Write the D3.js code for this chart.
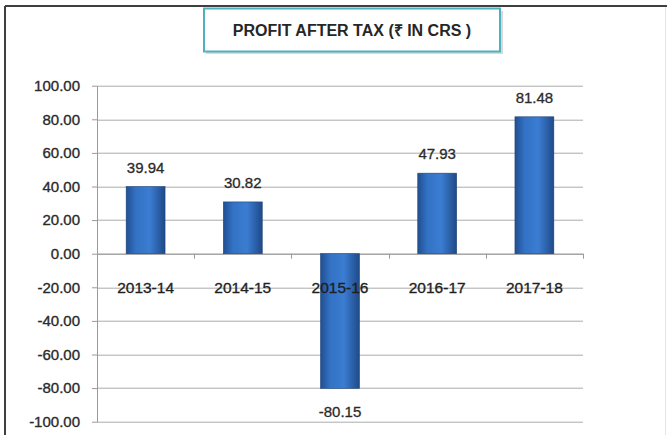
<!DOCTYPE html>
<html>
<head>
<meta charset="utf-8">
<script src="https://cdn.jsdelivr.net/npm/d3@7"></script>
<style>
  body { margin: 0; background: #fff; }
  svg { display: block; }
</style>
</head>
<body>
<div id="canvas"></div>
<script>
const years = ["2013-14", "2014-15", "2015-16", "2016-17", "2017-18"];
const profit = [39.94, 30.82, -80.15, 47.93, 81.48];
const yTicks = [100, 80, 60, 40, 20, 0, -20, -40, -60, -80, -100];
const title = "PROFIT AFTER TAX (\u20B9 IN CRS )";

const width = 667;
const height = 435;
const margin = { top: 85.7, left: 97, bottom: 13.3, right: 84 };
const iwidth = width - margin.left - margin.right;
const iheight = height - margin.top - margin.bottom;

const fmt = (v) => d3.format(".2f")(v).replace("\u2212", "-");
const font = "'Liberation Sans', Arial, sans-serif";

const svg = d3.select("#canvas").append("svg")
  .attr("width", width)
  .attr("height", height);

const defs = svg.append("defs");
const grad = defs.append("linearGradient").attr("id", "barGrad")
  .attr("x1", "0").attr("x2", "1").attr("y1", "0").attr("y2", "0");
grad.append("stop").attr("offset", "0%").attr("stop-color", "#214f92");
grad.append("stop").attr("offset", "25%").attr("stop-color", "#3372c4");
grad.append("stop").attr("offset", "60%").attr("stop-color", "#3b7dd2");
grad.append("stop").attr("offset", "100%").attr("stop-color", "#1f4a88");

// frame
svg.append("line").attr("x1", 5).attr("x2", width).attr("y1", 6).attr("y2", 6)
  .attr("stroke", "#3f3f3f").attr("stroke-width", 2);
svg.append("line").attr("x1", 5).attr("x2", 5).attr("y1", 6).attr("y2", height)
  .attr("stroke", "#3f3f3f").attr("stroke-width", 2);
svg.append("line").attr("x1", 665.5).attr("x2", 665.5).attr("y1", 7).attr("y2", height)
  .attr("stroke", "#e4e4e4").attr("stroke-width", 1);

// title box
svg.append("rect").attr("x", 206).attr("y", 11).attr("width", 297).attr("height", 43)
  .attr("fill", "#d9d9d9");
svg.append("rect").attr("x", 204).attr("y", 8.5).attr("width", 296).attr("height", 43)
  .attr("fill", "#fff").attr("stroke", "#4fb1bf").attr("stroke-width", 2);
svg.append("text").attr("x", 352).attr("y", 36)
  .attr("text-anchor", "middle")
  .style("font-family", font)
  .style("font-weight", "bold").style("font-size", "16px")
  .attr("fill", "#262626")
  .text(title);

const g = svg.append("g")
  .attr("transform", `translate(${margin.left},${margin.top})`);

const x = d3.scaleBand().domain(years).range([0, iwidth]).paddingInner(0.6).paddingOuter(0.3);
const xb = d3.scaleBand().domain(years).range([0, iwidth]);
const y = d3.scaleLinear().domain([-100, 100]).range([iheight, 0]);

// gridlines
g.append("g").selectAll("line").data(yTicks).enter().append("line")
  .attr("x1", 0).attr("x2", iwidth)
  .attr("y1", (d) => Math.round(y(d)) + 0.5).attr("y2", (d) => Math.round(y(d)) + 0.5)
  .attr("stroke", "#ababab").attr("stroke-width", 1);

// y axis
const yAxis = g.append("g").classed("y--axis", true)
  .call(d3.axisLeft(y).tickValues(yTicks).tickSize(5).tickSizeOuter(0)
    .tickFormat(fmt));
yAxis.select(".domain").attr("stroke", "#9a9a9a");
yAxis.selectAll(".tick line").attr("stroke", "#9a9a9a");
yAxis.selectAll("text")
  .attr("x", -17)
  .style("font-family", font)
  .style("font-size", "15px").attr("fill", "#2a2a2a")
  .attr("stroke", "#2a2a2a").attr("stroke-width", 0.35);

// x axis ticks at category boundaries on zero line
g.append("line").attr("x1", 0).attr("x2", iwidth)
  .attr("y1", Math.round(y(0)) + 0.5).attr("y2", Math.round(y(0)) + 0.5)
  .attr("stroke", "#9a9a9a");
g.append("g").selectAll("line").data(years).enter().append("line")
  .attr("x1", (d) => Math.round(xb(d) + xb.bandwidth()) + 0.5)
  .attr("x2", (d) => Math.round(xb(d) + xb.bandwidth()) + 0.5)
  .attr("y1", y(0)).attr("y2", y(0) + 5)
  .attr("stroke", "#9a9a9a");

// bars
const data = years.map((yr, i) => ({ year: yr, value: profit[i] }));
g.selectAll("rect.bar").data(data).enter().append("rect")
  .classed("bar", true)
  .attr("x", (d) => x(d.year))
  .attr("width", x.bandwidth())
  .attr("y", (d) => y(Math.max(0, d.value)))
  .attr("height", (d) => Math.abs(y(d.value) - y(0)))
  .attr("fill", "url(#barGrad)")
  .attr("stroke", "#1d4277").attr("stroke-width", 0.6);

// category labels
g.selectAll("text.cat").data(years).enter().append("text")
  .classed("cat", true)
  .attr("x", (d) => xb(d) + xb.bandwidth() / 2)
  .attr("y", y(-20) + 6)
  .attr("text-anchor", "middle")
  .style("font-family", font)
  .style("font-size", "15.5px").attr("fill", "#1f1f1f")
  .attr("stroke", "#1f1f1f").attr("stroke-width", 0.35)
  .text((d) => d);

// value labels
g.selectAll("text.val").data(data).enter().append("text")
  .classed("val", true)
  .attr("x", (d) => x(d.year) + x.bandwidth() / 2)
  .attr("y", (d) => d.value >= 0 ? y(d.value) - 14 : y(d.value) + 29)
  .attr("text-anchor", "middle")
  .style("font-family", font)
  .style("font-size", "15px").attr("fill", "#2a2a2a")
  .attr("stroke", "#2a2a2a").attr("stroke-width", 0.3)
  .text((d) => fmt(d.value));
</script>
</body>
</html>
